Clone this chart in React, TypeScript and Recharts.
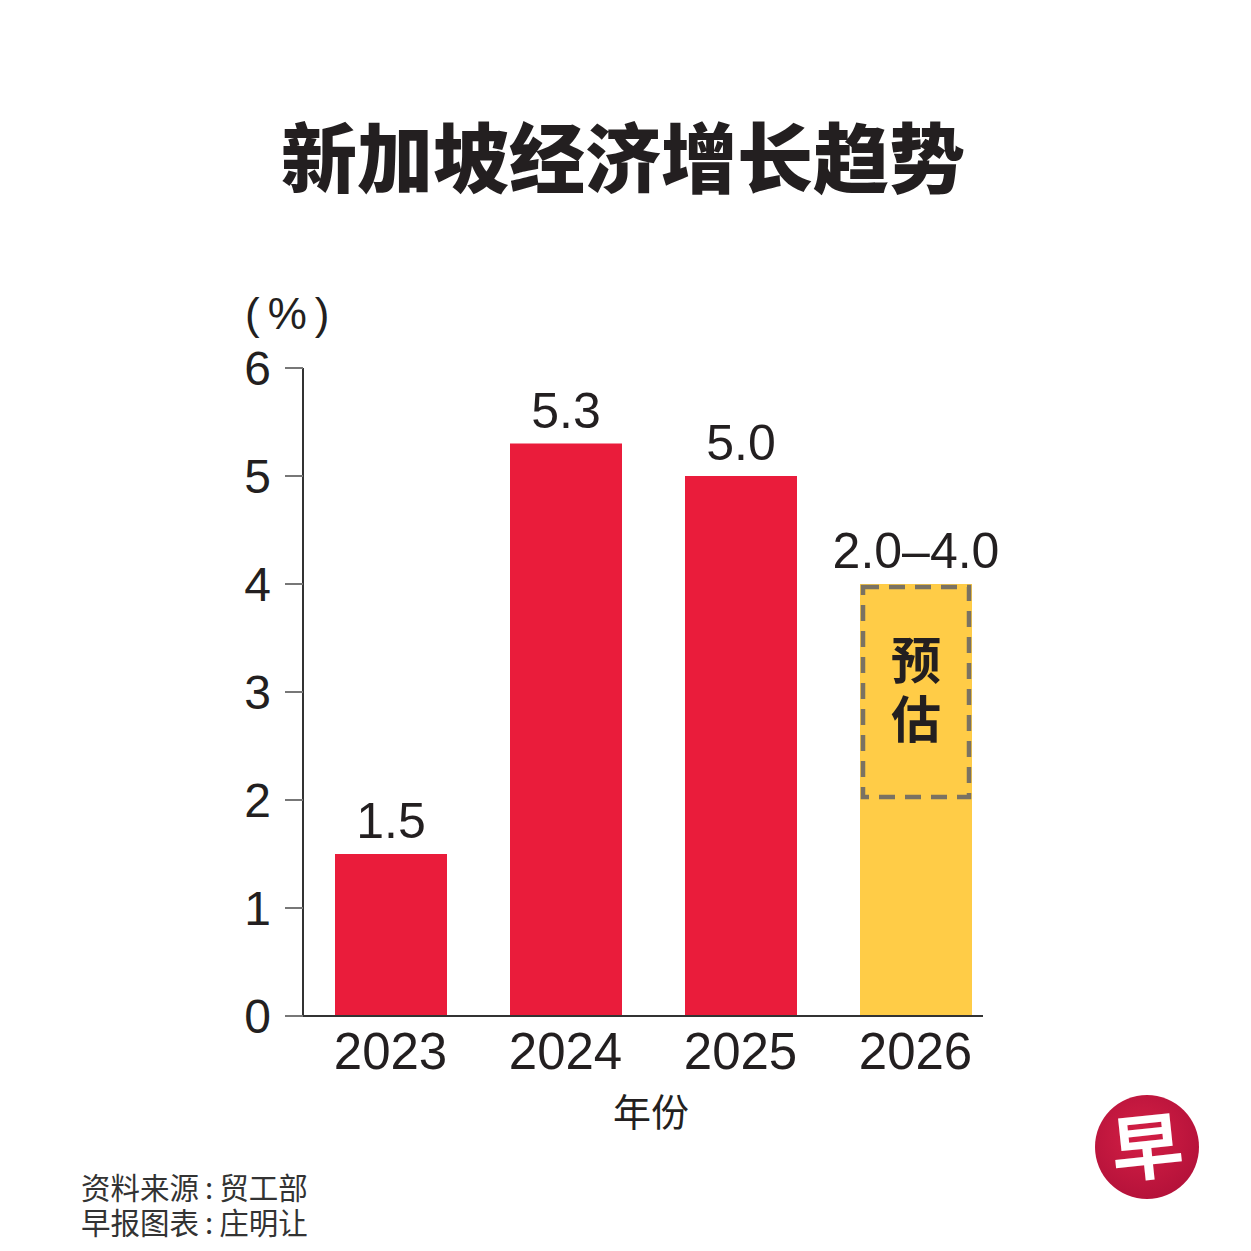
import React from 'react';
import { BarChart, Bar, XAxis, YAxis, Cell, LabelList } from 'recharts';

const years = ['2023', '2024', '2025', '2026'];
const growth = [1.5, 5.3, 5.0, 2.0];
const forecastSpan = [0, 0, 0, 2.0];
const valueLabels = ['1.5', '5.3', '5.0', '2.0–4.0'];
const isForecast = [false, false, false, true];
const yTicks = [0, 1, 2, 3, 4, 5, 6];

const RED = '#EA1C3B';
const YELLOW = '#FFCC47';
const INK = '#231F20';
const NUM_FONT = '"Liberation Sans", Arial, Helvetica, sans-serif';
const CJK_FONT = '"Noto Sans CJK SC", "Noto Sans", sans-serif';

const chartData = years.map((year, i) => ({
  year,
  growth: growth[i],
  span: forecastSpan[i],
  actualLabel: isForecast[i] ? '' : valueLabels[i],
  forecastLabel: isForecast[i] ? valueLabels[i] : '',
}));

const ForecastShape = (props: any) => {
  const { x, y, width, height } = props;
  if (!height || height <= 0) return null;
  const inset = 3;
  return (
    <g>
      <rect x={x} y={y} width={width} height={height} fill={YELLOW} />
      <rect
        x={x + inset}
        y={y + inset}
        width={width - inset * 2}
        height={height - inset * 2}
        fill="none"
        stroke="#7A7262"
        strokeWidth={4.5}
        strokeDasharray="16 10"
      />
      <text x={x + width / 2} y={y + height / 2 - 13} textAnchor="middle" fontFamily={CJK_FONT} fontWeight={700} fontSize={50} fill={INK}>
        预
      </text>
      <text x={x + width / 2} y={y + height / 2 + 46} textAnchor="middle" fontFamily={CJK_FONT} fontWeight={700} fontSize={50} fill={INK}>
        估
      </text>
    </g>
  );
};

// x-axis baseline: from the y-axis to just past the last bar
const AxisBaseline = (props: any) => {
  const { x, y, width } = props;
  if (x == null) return null;
  return <line x1={x} x2={x + width - 20} y1={y} y2={y} stroke="#333" strokeWidth={2} />;
};

const labelStyle = { fill: INK, fontSize: 50, fontFamily: NUM_FONT };

export default function App() {
  return (
    <div style={{ position: 'absolute', left: 0, top: 0, width: 1251, height: 1251, background: '#fff' }}>
      <BarChart
        width={1251}
        height={1251}
        data={chartData}
        margin={{ top: 368, right: 248, bottom: 175, left: 243 }}
      >
        <XAxis
          dataKey="year"
          axisLine={false}
          tickLine={false}
          tickSize={0}
          tickMargin={17}
          interval={0}
          height={60}
          tick={{ fill: INK, fontSize: 51, fontFamily: NUM_FONT }}
        />
        <YAxis
          domain={[0, 6]}
          ticks={yTicks}
          interval={0}
          width={60}
          tickSize={18}
          tickMargin={14}
          axisLine={{ stroke: '#333', strokeWidth: 2 }}
          tickLine={{ stroke: '#777', strokeWidth: 2 }}
          tick={{ fill: INK, fontSize: 48, fontFamily: NUM_FONT, dy: 0 }}
        />
        <Bar dataKey="growth" stackId="a" barSize={112} isAnimationActive={false}>
          {chartData.map((d, i) => (
            <Cell key={d.year} fill={isForecast[i] ? YELLOW : RED} />
          ))}
          <LabelList dataKey="actualLabel" position="top" offset={16} style={labelStyle} />
        </Bar>
        <Bar dataKey="span" stackId="a" barSize={112} shape={<ForecastShape />} isAnimationActive={false}>
          <LabelList dataKey="forecastLabel" position="top" offset={16} style={labelStyle} />
        </Bar>
      </BarChart>
      <svg width={1251} height={1251} style={{ position: 'absolute', left: 0, top: 0, pointerEvents: 'none' }}>
        <AxisBaseline x={303} y={1016} width={700} />
        <text x={623} y={187} textAnchor="middle" fontFamily={CJK_FONT} fontWeight={900} fontSize={76} fill={INK}>
          新加坡经济增长趋势
        </text>
        <text x={245} y={329} fontFamily={NUM_FONT} fontSize={44} fill={INK} letterSpacing={8}>
          (%)
        </text>
        <text x={651} y={1126} textAnchor="middle" fontFamily={CJK_FONT} fontSize={38} fill={INK}>
          年份
        </text>
        <text x={81} y={1199} fontFamily={CJK_FONT} fontSize={29.5} fill="#333">
          资料来源<tspan dx={6}>:</tspan><tspan dx={6}>贸工部</tspan>
        </text>
        <text x={81} y={1234} fontFamily={CJK_FONT} fontSize={29.5} fill="#333">
          早报图表<tspan dx={6}>:</tspan><tspan dx={6}>庄明让</tspan>
        </text>
        <defs>
          <radialGradient id="logoGrad" cx="45%" cy="40%" r="60%">
            <stop offset="0%" stopColor="#D41F45" />
            <stop offset="100%" stopColor="#B5123A" />
          </radialGradient>
        </defs>
        <circle cx={1147} cy={1147} r={52} fill="url(#logoGrad)" />
        <text x={1147} y={1174} textAnchor="middle" fontFamily={CJK_FONT} fontWeight={700} fontSize={72} fill="#fff" transform="rotate(-6 1147 1147)">
          早
        </text>
      </svg>
    </div>
  );
}
